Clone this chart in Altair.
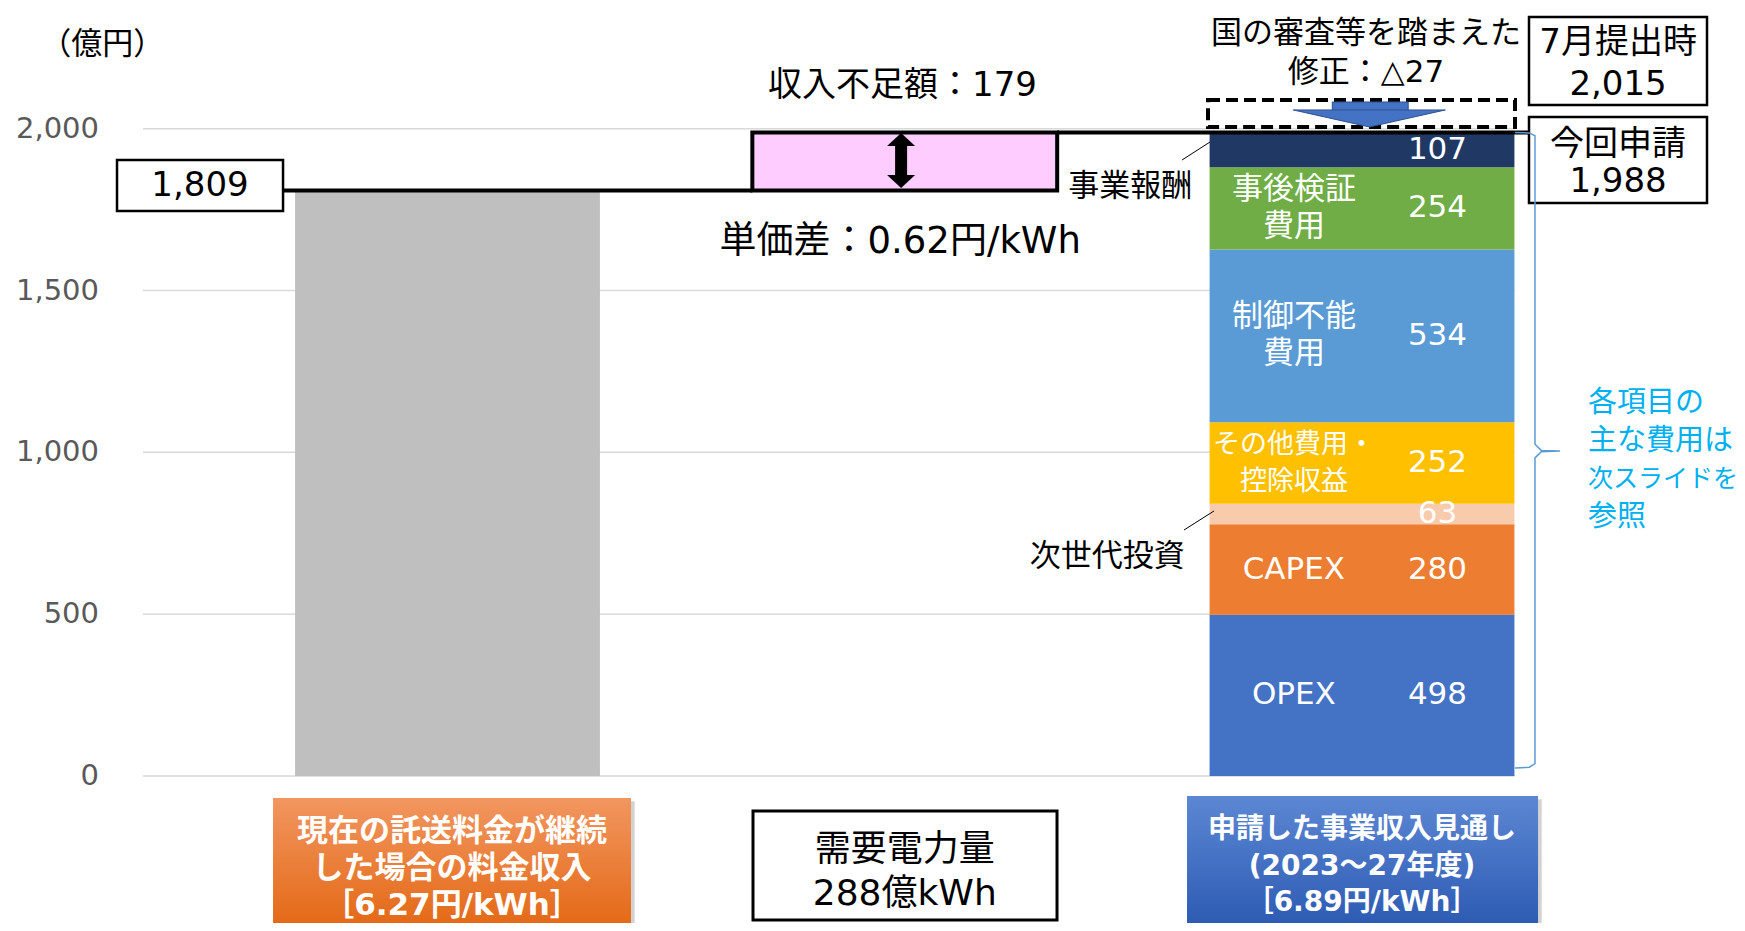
import altair as alt
import pandas as pd

FONT = "DejaVu Sans, Noto Sans CJK JP"

# ---------------- data ----------------
y_ticks = [0, 500, 1000, 1500, 2000]
current_revenue = 1809          # 現在の託送料金が継続した場合の料金収入
july_total = 2015               # 7月提出時
unit_price_gap = "0.62"
cost_items = ["OPEX", "CAPEX", "次世代投資", "その他費用・控除収益", "制御不能費用", "事後検証費用", "事業報酬"]
cost_values = [498, 280, 63, 252, 534, 254, 107]
cost_names = ["OPEX", "CAPEX", "", "その他費用・\n控除収益", "制御不能\n費用", "事後検証\n費用", ""]
cost_name_sizes = [31, 31, 31, 27, 31, 31, 31]
cost_colors = ["#4472c4", "#ed7d31", "#f8cbad", "#ffc000", "#5b9bd5", "#70ad47", "#203864"]
left_label = ["現在の託送料金が継続", "した場合の料金収入", "［6.27円/kWh］"]
mid_label = ["需要電力量", "288億kWh"]
right_label = ["申請した事業収入見通し", "(2023～27年度)", "［6.89円/kWh］"]
brace_note = ["各項目の", "主な費用は", "次スライドを", "参照"]
brace_note_sizes = [29, 29, 25, 29]

applied_total = sum(cost_values)              # 1988
shortfall = applied_total - current_revenue   # 179
revision = july_total - applied_total         # 27

# ---------------- scales ----------------
XS = alt.Scale(domain=[-0.9612, 2.8201], nice=False, zero=False)
YS = alt.Scale(domain=[-454.2, 2372.9], nice=False, zero=False)
HW = 1 / 3        # half bar width (category units)
LINE = 114.3      # one text line, in value units


def X(f="x"):
    return alt.X(f"{f}:Q", scale=XS, axis=None)


def Y(f="y"):
    return alt.Y(f"{f}:Q", scale=YS, axis=None)


def rect(df, **mk):
    return alt.Chart(df).mark_rect(**mk).encode(x=X(), x2="x2:Q", y=Y(), y2="y2:Q")


def rule(df, **mk):
    enc = dict(x=X(), y=Y())
    if "x2" in df.columns:
        enc["x2"] = "x2:Q"
    if "y2" in df.columns:
        enc["y2"] = "y2:Q"
    return alt.Chart(df).mark_rule(**mk).encode(**enc)


def text(df, **mk):
    base = dict(font=FONT, align="center", baseline="middle", color="black")
    base.update(mk)
    enc = dict(x=X(), y=Y(), text="t:N")
    if "s" in df.columns:
        enc["size"] = alt.Size("s:Q", scale=None, legend=None)
    return alt.Chart(df).mark_text(**base).encode(**enc)


def T(x, y, t):
    return pd.DataFrame({"x": [x], "y": [y], "t": [t]})


layers = []

# gridlines + tick labels
grid_df = pd.DataFrame({"y": y_ticks, "x": -0.666, "x2": 2.3335})
layers.append(rule(grid_df, color="#d9d9d9", strokeWidth=1.5))
tick_df = pd.DataFrame({"x": -0.7622, "y": y_ticks, "t": [f"{v:,}" for v in y_ticks]})
layers.append(text(tick_df, fontSize=29, color="#595959", align="right"))

# current revenue bar
layers.append(rect(pd.DataFrame({"x": [-HW], "x2": [HW], "y": [0], "y2": [current_revenue]}), color="#bfbfbf"))

# stacked cost bar
starts, acc = [], 0
for v in cost_values:
    starts.append(acc)
    acc += v
stack = pd.DataFrame({
    "item": cost_items,
    "y": starts,
    "y2": [s + v for s, v in zip(starts, cost_values)],
    "x": 2 - HW, "x2": 2 + HW,
})
layers.append(
    alt.Chart(stack).mark_rect().encode(
        x=X(), x2="x2:Q", y=Y(), y2="y2:Q",
        color=alt.Color("item:N", scale=alt.Scale(domain=cost_items, range=cost_colors), legend=None),
    )
)
stack["mid"] = (stack["y"] + stack["y2"]) / 2
rows = []
for mid, name, size in zip(stack["mid"], cost_names, cost_name_sizes):
    if not name:
        continue
    parts = name.split("\n")
    n = len(parts)
    for i, p in enumerate(parts):
        rows.append({"x": 2 - 0.149, "y": mid + ((n - 1) / 2 - i) * LINE, "t": p, "s": size})
name_df = pd.DataFrame(rows)
val_df = pd.DataFrame({"x": 2 + 0.165, "y": stack["mid"], "t": [str(v) for v in cost_values]})
layers.append(text(name_df, color="white"))
layers.append(text(val_df, fontSize=31, color="white"))

# step lines
layers.append(rule(pd.DataFrame({"x": [-0.3597], "x2": [2 / 3], "y": [current_revenue]}), color="black", strokeWidth=4))
layers.append(rule(pd.DataFrame({"x": [4 / 3], "x2": [2.363], "y": [applied_total]}), color="black", strokeWidth=4))

# shortfall box
layers.append(rect(pd.DataFrame({"x": [2 / 3], "x2": [4 / 3], "y": [current_revenue], "y2": [applied_total]}),
                   fill="#ffccff", stroke="black", strokeWidth=4))
# double arrow
layers.append(rule(pd.DataFrame({"x": [0.992], "y": [1840], "y2": [1963]}), color="black", strokeWidth=12))
layers.append(alt.Chart(T(0.992, 1966.6, "")).mark_point(shape="M0,-0.46L1,0.46L-1,0.46Z", size=784, filled=True,
                                                       color="black", opacity=1).encode(x=X(), y=Y()))
layers.append(alt.Chart(T(0.992, 1836.9, "")).mark_point(shape="M0,0.46L1,-0.46L-1,-0.46Z", size=784, filled=True,
                                                       color="black", opacity=1).encode(x=X(), y=Y()))

# dashed box (July submission) and blue arrow
layers.append(rect(pd.DataFrame({"x": [1.6632], "x2": [2.3346], "y": [2005], "y2": [2088.7]}),
                   fill="white", fillOpacity=0, stroke="black", strokeWidth=4, strokeDash=[12, 6]))
layers.append(rect(pd.DataFrame({"x": [1.935], "x2": [2.101], "y": [2055], "y2": [2082.5]}),
                   fill="#4472c4", stroke="#2f528f", strokeWidth=1))
layers.append(alt.Chart(T(2.016, 2031.6, "")).mark_point(shape="M-1,-0.1118L1,-0.1118L0,0.1118Z", size=23104,
                                                       filled=True, color="#4472c4", opacity=1,
                                                       stroke="#2f528f", strokeWidth=1).encode(x=X(), y=Y()))

# framed value boxes
box_style = dict(fill="white", stroke="black", strokeWidth=2.5)
layers.append(rect(pd.DataFrame({"x": [-0.7228], "x2": [-0.3597], "y": [1745.7], "y2": [1903.3]}), **box_style))
layers.append(rect(pd.DataFrame({"x": [2.3652], "x2": [2.7545], "y": [2073.2], "y2": [2345.1]}), **box_style))
layers.append(rect(pd.DataFrame({"x": [2.3652], "x2": [2.7545], "y": [1770.4], "y2": [2036.1]}), **box_style))

# leader lines
layers.append(rule(pd.DataFrame({"x": [1.6064], "y": [1903.3], "x2": [1.6676], "y2": [1958.9]}), color="black", strokeWidth=1))
layers.append(rule(pd.DataFrame({"x": [1.6107], "y": [760.1], "x2": [1.6763], "y2": [818.8]}), color="black", strokeWidth=1))

# brace
brace = pd.DataFrame({
    "x": [2.3346, 2.366, 2.3783, 2.3783, 2.392, 2.433, 2.392, 2.3783, 2.3783, 2.366, 2.3346],
    "y": [1988, 1987, 1978, 1025, 1006, 1004, 1002, 983, 38, 27, 25],
})
brace["o"] = range(len(brace))
layers.append(alt.Chart(brace).mark_line(color="#5b9bd5", strokeWidth=1.5).encode(x=X(), y=Y(), order="o:Q"))

# texts
layers.append(text(T(-0.755, 2259, "（億円）"), fontSize=31))
layers.append(text(T(-0.5413, 1823, f"{current_revenue:,}"), fontSize=34))
layers.append(text(T(0.995, 2132, f"収入不足額：{shortfall}"), fontSize=34))
layers.append(text(T(0.99, 1650, f"単価差：{unit_price_gap}円/kWh"), fontSize=37))
layers.append(text(T(2.0087, 2293, "国の審査等を踏まえた"), fontSize=31))
layers.append(text(T(2.0087, 2172, f"修正：△{revision}"), fontSize=31))
layers.append(text(T(2.56, 2265, "7月提出時"), fontSize=34))
layers.append(text(T(2.56, 2135, f"{july_total:,}"), fontSize=34))
layers.append(text(T(2.56, 1950, "今回申請"), fontSize=34))
layers.append(text(T(2.56, 1835, f"{applied_total:,}"), fontSize=34))
layers.append(text(T(1.4929, 1820, cost_items[6]), fontSize=31))
layers.append(text(T(1.4426, 677, cost_items[2]), fontSize=31))
note_df = pd.DataFrame({"x": 2.4942, "y": [1152.5, 1035.1, 917.7, 800.3], "t": brace_note, "s": brace_note_sizes})
layers.append(text(note_df, color="#00b0f0", align="left"))

# bottom category boxes
orange = alt.Gradient(gradient="linear", x1=0, x2=0, y1=0, y2=1,
                      stops=[alt.GradientStop(color="#f29660", offset=0), alt.GradientStop(color="#e46a18", offset=1)])
blue = alt.Gradient(gradient="linear", x1=0, x2=0, y1=0, y2=1,
                    stops=[alt.GradientStop(color="#5c87d3", offset=0), alt.GradientStop(color="#2e5cb4", offset=1)])
shadow = dict(fill="#7f7f7f", opacity=0.35)
layers.append(rect(pd.DataFrame({"x": [-0.3816 + 0.008], "x2": [0.4013 + 0.008], "y": [-454.2], "y2": [-78]}), **shadow))
layers.append(rect(pd.DataFrame({"x": [1.6173 + 0.008], "x2": [2.385 + 0.008], "y": [-454.2], "y2": [-72]}), **shadow))
layers.append(rect(pd.DataFrame({"x": [-0.3816], "x2": [0.4013], "y": [-454.2], "y2": [-68]}), fill=orange))
layers.append(rect(pd.DataFrame({"x": [1.6173], "x2": [2.385], "y": [-454.2], "y2": [-61.8]}), fill=blue))
layers.append(rect(pd.DataFrame({"x": [0.6681], "x2": [1.333], "y": [-445], "y2": [-108.1]}),
                   fill="white", stroke="black", strokeWidth=3))

left_df = pd.DataFrame({"x": 0.0098, "y": [-173, -287.4, -401.7], "t": left_label})
right_df = pd.DataFrame({"x": 2.0, "y": [-166.8, -281.1, -392.4], "t": right_label})
layers.append(text(left_df, fontSize=31, fontWeight="bold", color="white"))
layers.append(text(right_df, fontSize=28, fontWeight="bold", color="white"))
mid_df = pd.DataFrame({"x": 1.0, "y": [-228.6, -364.6], "t": mid_label})
layers.append(text(mid_df, fontSize=36))

chart = alt.layer(*layers).properties(
    width=1729, height=915,
    autosize=alt.AutoSizeParams(type="none"),
    padding=0,
    background="white",
).configure_view(stroke=None)

chart.save("out.html", embed_options={"renderer": "svg", "actions": False})
